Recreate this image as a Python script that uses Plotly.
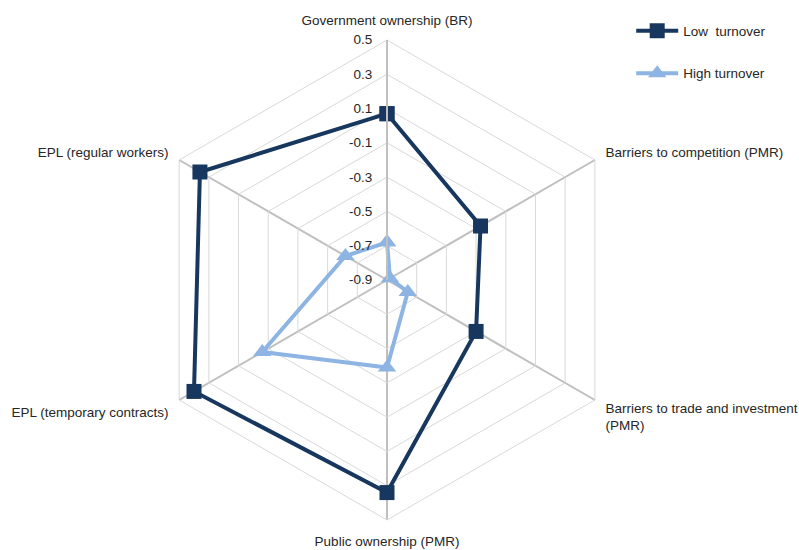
import plotly.graph_objects as go

categories = [
    "Government ownership (BR)",
    "Barriers to competition (PMR)",
    "Barriers to trade and investment<br>(PMR)",
    "Public ownership (PMR)",
    "EPL (temporary contracts)",
    "EPL (regular workers)",
]
low_turnover = [0.07, -0.27, -0.30, 0.34, 0.40, 0.36]
high_turnover = [-0.68, -0.88, -0.76, -0.39, -0.06, -0.62]
radial_ticks = [0.5, 0.3, 0.1, -0.1, -0.3, -0.5, -0.7, -0.9]
R_MIN, R_MAX = -0.9, 0.5

FONT = "Liberation Sans, Arial, sans-serif"
FS = 13.5
TXT = "#262626"

def shifted(v):
    # radial axis starts at R_MIN in the centre; shift so Plotly's radius begins at 0
    s = [x - R_MIN for x in v]
    return s + s[:1]

theta = categories + categories[:1]

fig = go.Figure()
fig.add_trace(go.Scatterpolar(
    r=shifted(low_turnover), theta=theta,
    mode="lines+markers", name="Low  turnover",
    line=dict(color="#17375E", width=4),
    marker=dict(symbol="square", size=15, color="#17375E"),
    legendgroup="a",
    customdata=low_turnover + low_turnover[:1],
    hovertemplate="%{theta}: %{customdata}<extra></extra>",
))
fig.add_trace(go.Scatterpolar(
    r=shifted(high_turnover), theta=theta,
    mode="lines+markers", name="High turnover",
    line=dict(color="#8DB4E2", width=4),
    marker=dict(symbol="triangle-up", size=16, color="#8DB4E2"),
    legendgroup="b",
    customdata=high_turnover + high_turnover[:1],
    hovertemplate="%{theta}: %{customdata}<extra></extra>",
))

fig.update_layout(
    width=799, height=550,
    margin=dict(l=0, r=0, t=0, b=0),
    paper_bgcolor="white",
    font=dict(family=FONT, size=FS, color=TXT),
    polar=dict(
        domain=dict(x=[147/799, 627/799], y=[1-520/550, 1-40/550]),
        bgcolor="white",
        gridshape="linear",
        angularaxis=dict(
            rotation=90, direction="clockwise",
            showline=True, linecolor="#D9D9D9", linewidth=1,
            gridcolor="#BFBFBF", gridwidth=2,
            ticks="outside", ticklen=9, tickcolor="rgba(0,0,0,0)",
            tickfont=dict(size=FS, family=FONT, color=TXT),
        ),
        radialaxis=dict(
            range=[0, R_MAX - R_MIN],
            tickvals=[t - R_MIN for t in radial_ticks],
            ticktext=[f"{v:.1f}" for v in radial_ticks],
            angle=90, side="counterclockwise", tickangle=90,
            showline=True, linecolor="#BFBFBF", linewidth=2,
            gridcolor="#D9D9D9", gridwidth=1,
            ticks="outside", ticklen=9, tickcolor="rgba(0,0,0,0)",
            tickfont=dict(size=FS, family=FONT, color=TXT),
        ),
    ),
    showlegend=True,
    legend=dict(
        x=0.79, y=0.972, xanchor="left", yanchor="top",
        traceorder="grouped", tracegroupgap=22, itemwidth=42,
        font=dict(size=FS, family=FONT, color=TXT),
        bgcolor="rgba(0,0,0,0)",
    ),
)

fig.write_html("out.html")
